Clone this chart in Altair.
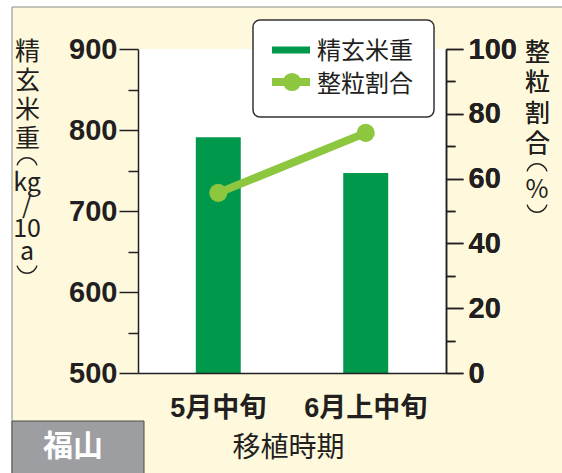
import math
import altair as alt
import pandas as pd

# ---- data ----
periods = ["5月中旬", "6月上中旬"]
weights = [791, 747]          # 精玄米重 (kg/10a)
ratios = [55.6, 74.1]         # 整粒割合 (%)
legend_labels = ["精玄米重", "整粒割合"]
left_title = ["精", "玄", "米", "重"]
left_unit = ["kg", "/", "10", "a"]
right_title = ["整", "粒", "割", "合"]
right_unit = "%"
x_title = "移植時期"
site = "福山"

df = pd.DataFrame({"period": periods, "weight": weights, "ratio": ratios})
one = pd.DataFrame({"k": [0]})

W, H = 308, 324
YELLOW = "#fef9dc"
GREEN = "#00994c"
LIGHT = "#8dc63f"
INK = "#231f20"
NUM_FONT = "Liberation Sans"
CJK = "Noto Sans CJK JP"

x_enc = alt.X(
    "period:N", sort=periods,
    scale=alt.Scale(paddingInner=0.695, paddingOuter=0.392),
    axis=alt.Axis(
        title=x_title, titleFont=CJK, titleFontSize=28, titleFontWeight="normal",
        titleColor=INK, titleX=150, titleY=75, titleBaseline="middle",
        labelFont=f"{NUM_FONT}, {CJK}", labelFontSize=27, labelFontWeight="bold",
        labelColor=INK, labelAngle=0, labelPadding=35, labelBaseline="middle",
        ticks=False, tickSize=0, domain=True, domainColor=INK, domainWidth=1.5,
        grid=False, zindex=1,
    ),
)

panel = alt.Chart(one).mark_rect(fill=YELLOW, stroke="#8a8a8a", strokeWidth=1).encode(
    x=alt.value(-126), x2=alt.value(W + 200), y=alt.value(-42), y2=alt.value(H + 200)
)
plot_bg = alt.Chart(one).mark_rect(fill="white").encode(
    x=alt.value(0), x2=alt.value(W), y=alt.value(0), y2=alt.value(H)
)
site_box = alt.Chart(one).mark_rect(fill="#9d9ea2", stroke="#4d4d4d", strokeWidth=1).encode(
    x=alt.value(-126), x2=alt.value(6), y=alt.value(372), y2=alt.value(H + 200)
)
site_text = alt.Chart(one).mark_text(
    text=site, font=CJK, fontSize=30, fontWeight="bold", color="white",
    align="center", baseline="middle"
).encode(x=alt.value(-65), y=alt.value(398))

bars = alt.Chart(df).mark_bar(color=GREEN, clip=True).encode(
    x=x_enc,
    y=alt.Y(
        "weight:Q",
        scale=alt.Scale(domain=[500, 900], nice=False, zero=False),
        axis=alt.Axis(
            orient="left", values=list(range(500, 901, 50)),
            labelExpr="datum.value % 100 === 0 ? datum.label : ''",
            labelFont=NUM_FONT, labelFontSize=29, labelFontWeight="bold",
            labelColor=INK, labelPadding=2,
            tickSize={"condition": {"test": "datum.value % 100 === 0", "value": 19}, "value": 10},
            tickColor=INK, tickWidth=1.5, domainColor=INK, domainWidth=1.5,
            grid=False, zindex=1,
            title=left_title, titleAngle=0, titleFont=CJK, titleFontSize=25,
            titleFontWeight="normal", titleColor=INK, titleAlign="center",
            titleBaseline="top", titleLineHeight=29, titleX=-111, titleY=-10,
        ),
    ),
)

ratio_y = alt.Y(
    "ratio:Q",
    scale=alt.Scale(domain=[0, 100], nice=False),
    axis=alt.Axis(
        orient="right", values=list(range(0, 101, 10)),
        labelExpr="datum.value % 20 === 0 ? datum.label : ''",
        labelFont=NUM_FONT, labelFontSize=29, labelFontWeight="bold",
        labelColor=INK, labelPadding=5,
        tickSize={"condition": {"test": "datum.value % 20 === 0", "value": 17}, "value": 9},
        tickColor=INK, tickWidth=1.5, domainColor=INK, domainWidth=1.5,
        grid=False, zindex=1,
        title=right_title, titleAngle=0, titleFont=CJK, titleFontSize=25,
        titleFontWeight="normal", titleColor=INK, titleAlign="center",
        titleBaseline="top", titleLineHeight=30.5, titleX=91, titleY=-9,
    ),
)
line = alt.Chart(df).mark_line(color=LIGHT, strokeWidth=8).encode(x=x_enc, y=ratio_y)
points = alt.Chart(df).mark_point(filled=True, color=LIGHT, size=330, opacity=1).encode(x=x_enc, y=ratio_y)


def title_text(txt, x, y, baseline="middle", line_h=None):
    kw = dict(text=txt, font=CJK, fontSize=25, color=INK, align="center", baseline=baseline)
    if line_h is not None:
        kw["lineHeight"] = line_h
    return alt.Chart(one).mark_text(**kw).encode(x=alt.value(x), y=alt.value(y))


# vertical-text parentheses drawn as thin arcs (︵ and ︶)
R = 11.0
HALF = math.radians(75)


def paren(x, cy, opening):
    if opening:   # ︵ : upper arc
        t1, t2 = 2 * math.pi - HALF, 2 * math.pi + HALF
    else:         # ︶ : lower arc
        t1, t2 = math.pi - HALF, math.pi + HALF
    return alt.Chart(one).mark_arc(
        radius=R, radius2=R - 1.4, theta=t1, theta2=t2, fill=INK, stroke=None
    ).encode(x=alt.value(x), y=alt.value(cy))


left_open = paren(-111, 119, True)
left_mid = title_text(left_unit, -111, 121.5, baseline="top", line_h=23)
left_close = paren(-111, 214, False)
right_open = paren(W + 91, 125, True)
right_mid = title_text(right_unit, W + 91, 141)
right_close = paren(W + 91, 153, False)

# legend (drawn by hand)
leg_box = alt.Chart(one).mark_rect(fill="white", stroke="#333333", strokeWidth=1.5, cornerRadius=7).encode(
    x=alt.value(115), x2=alt.value(296), y=alt.value(-29), y2=alt.value(68)
)
leg_bar = alt.Chart(one).mark_rect(fill=GREEN).encode(
    x=alt.value(134), x2=alt.value(172), y=alt.value(-2.5), y2=alt.value(4.5)
)
leg_line = alt.Chart(one).mark_rule(color=LIGHT, strokeWidth=8).encode(
    x=alt.value(134), x2=alt.value(172), y=alt.value(33)
)
leg_pt = alt.Chart(one).mark_point(filled=True, color=LIGHT, size=330, opacity=1).encode(
    x=alt.value(154), y=alt.value(33)
)
leg_t1 = alt.Chart(one).mark_text(
    text=legend_labels[0], font=CJK, fontSize=24, color=INK, align="left", baseline="middle"
).encode(x=alt.value(179), y=alt.value(3))
leg_t2 = alt.Chart(one).mark_text(
    text=legend_labels[1], font=CJK, fontSize=24, color=INK, align="left", baseline="middle"
).encode(x=alt.value(179), y=alt.value(36))

chart = alt.layer(
    panel, plot_bg, site_box, site_text, bars, line, points,
    left_open, left_mid, left_close, right_open, right_mid, right_close,
    leg_box, leg_bar, leg_line, leg_pt, leg_t1, leg_t2,
).resolve_scale(y="independent").properties(
    width=W, height=H,
    padding={"left": 138, "top": 49, "right": 116, "bottom": 100},
    autosize=alt.AutoSizeParams(type="none"),
    background="white",
).configure_view(stroke=None)

chart.save("out.html", embed_options={"renderer": "svg", "actions": False})
